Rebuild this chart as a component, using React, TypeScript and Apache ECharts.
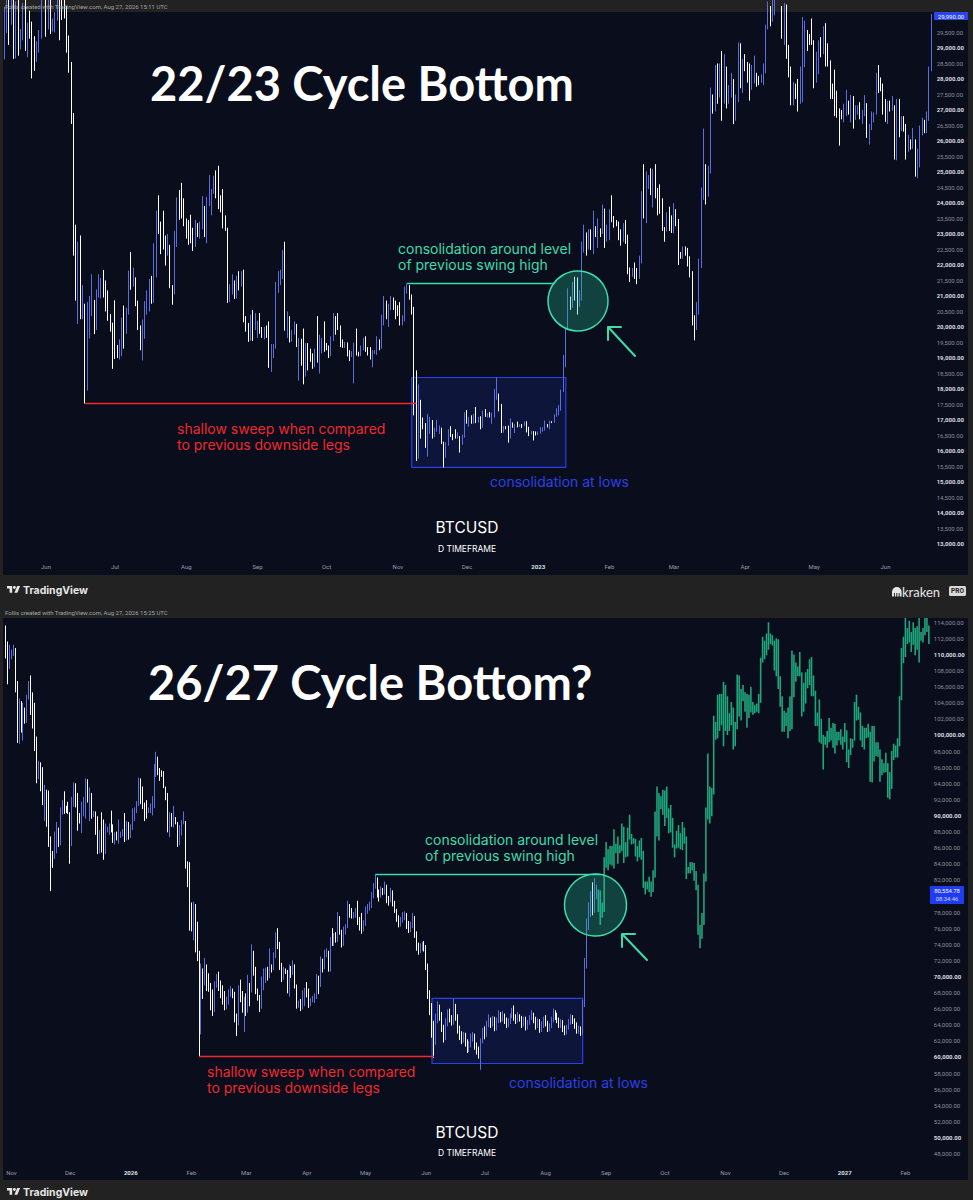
import React, { useEffect, useRef } from 'react';
import * as echarts from 'echarts';

// ---------------- DATA ----------------
const MONTH_LABELS = ['Jan', 'Feb', 'Mar', 'Apr', 'May', 'Jun', 'Jul', 'Aug', 'Sep', 'Oct', 'Nov', 'Dec'];

// 22/23 chart: daily BTCUSD in thousands USD, rows = [close, low, high]; open = previous close
const CYCLE22_START = '2022-05-14';
const CYCLE22_FIRST_OPEN = 29.05;
const cycle22Daily: number[][] = [
  // 2022-05 (14..31)
  [30.08,28.63,30.33],[31.30,29.48,31.40],[29.86,29.10,31.30],[30.42,29.75,30.72],[28.70,28.65,30.67],[30.30,28.66,30.50],[29.20,28.75,30.75],[29.43,28.95,29.61],[30.30,29.25,30.45],[29.10,28.90,30.65],[29.65,28.70,29.82],[29.54,29.30,30.20],[29.20,28.02,29.85],[28.63,28.26,29.38],[29.03,28.55,29.22],[29.47,28.85,29.58],[31.73,29.30,32.20],[31.79,31.22,32.35],
  // 2022-06
  [29.80,29.36,31.95],[30.45,29.60,30.65],[29.70,29.45,30.65],[29.86,29.53,29.95],[29.91,29.50,30.15],[31.37,29.88,31.70],[31.13,29.25,31.55],[30.21,29.90,31.35],[30.11,29.95,30.65],[29.08,28.85,30.35],
  [28.42,28.20,29.40],[26.58,26.55,28.55],[22.49,22.30,26.90],[22.21,20.85,23.30],[22.58,20.10,22.75],[20.38,20.25,22.95],[20.47,20.25,21.35],[19.02,17.53,20.75],[20.56,17.95,20.80],[20.71,19.63,21.00],
  [20.73,20.35,21.70],[19.99,19.77,20.87],[21.09,19.90,21.21],[21.23,20.95,21.70],[21.50,20.92,21.58],[21.03,20.95,21.84],[20.73,20.50,21.50],[20.28,20.20,21.18],[20.10,19.85,20.42],[19.78,18.65,20.14],
  // 2022-07
  [19.30,18.97,20.86],[19.25,19.00,19.42],[19.30,18.95,19.60],[20.23,19.06,20.30],[20.19,19.30,20.69],[20.55,19.78,20.62],[21.62,20.40,21.82],[21.59,21.20,22.42],[21.59,21.30,21.91],[20.86,20.67,21.60],
  [19.97,19.90,20.85],[19.33,19.25,20.05],[20.21,18.92,20.24],[20.57,19.62,20.84],[20.83,20.40,21.18],[21.20,20.50,21.55],[20.78,20.75,21.65],[22.48,20.78,22.70],[23.39,21.60,23.75],[23.23,23.00,24.25],
  [23.16,22.35,23.40],[22.68,22.50,23.75],[22.46,21.98,22.95],[22.58,22.30,23.00],[21.31,21.25,22.65],[21.25,20.72,21.35],[22.95,21.05,23.10],[23.85,22.58,24.18],[23.80,23.45,24.42],[23.65,23.50,24.65],[23.30,23.25,24.15],
  // 2022-08
  [23.27,22.85,23.50],[22.99,22.65,23.45],[22.82,22.70,23.62],[22.63,22.45,23.20],[23.29,22.58,23.45],[22.96,22.90,23.35],[23.18,22.85,23.40],[23.81,23.15,24.22],[23.16,22.90,23.90],[23.95,22.70,24.20],
  [23.95,23.90,24.90],[24.40,23.60,24.45],[24.44,24.30,24.88],[24.31,24.15,25.05],[24.10,23.80,25.20],[23.85,23.70,24.25],[23.34,23.18,24.45],[23.19,23.10,23.60],[20.83,20.78,23.20],[21.14,20.80,21.38],
  [21.52,21.05,21.70],[21.40,20.90,21.50],[21.53,20.92,21.65],[21.37,21.18,21.80],[21.57,21.30,21.80],[20.24,20.15,21.85],[20.04,19.85,20.35],[19.55,19.52,20.13],[20.28,19.55,20.40],[19.81,19.55,20.55],[20.05,19.90,20.45],
  // 2022-09
  [20.13,19.65,20.20],[19.95,19.78,20.45],[19.83,19.65,20.00],[19.99,19.60,20.00],[19.80,19.65,20.05],[18.79,18.68,20.18],[19.29,18.55,19.45],[19.32,19.00,19.45],[21.36,19.30,21.45],[21.65,21.10,21.80],
  [21.83,21.35,21.85],[22.40,21.55,22.48],[20.17,19.88,22.75],[20.24,19.65,20.50],[19.70,19.50,20.35],[19.80,19.52,19.90],[20.11,19.75,20.18],[19.42,19.35,20.10],[19.54,18.27,19.65],[18.88,18.75,19.62],
  [18.48,18.15,19.95],[19.41,18.40,19.48],[19.30,18.60,19.48],[18.93,18.88,19.30],[18.80,18.65,19.15],[19.22,18.70,19.30],[19.11,18.85,20.35],[19.42,18.50,19.75],[19.59,19.15,19.65],[19.43,19.20,20.18],
  // 2022-10
  [19.31,19.25,19.48],[19.06,19.00,19.40],[19.62,19.05,19.70],[20.34,19.55,20.45],[20.16,19.75,20.35],[19.96,19.90,20.45],[19.53,19.35,20.05],[19.42,19.33,19.60],[19.45,19.32,19.52],[19.13,19.05,19.50],
  [19.05,18.90,19.25],[19.16,19.03,19.22],[19.38,18.18,19.50],[19.18,19.08,19.95],[19.07,19.05,19.20],[19.27,19.06,19.40],[19.55,19.25,19.65],[19.33,19.20,19.70],[19.13,19.08,19.35],[19.04,18.95,19.35],
  [19.17,18.70,19.25],[19.21,19.13,19.26],[19.57,19.10,19.70],[19.33,19.25,19.60],[20.09,19.30,20.40],[20.77,20.05,21.00],[20.29,20.25,20.85],[20.60,20.00,20.75],[20.81,20.55,21.00],[20.63,20.55,20.95],[20.49,20.25,20.85],
  // 2022-11
  [20.48,20.35,20.70],[20.16,20.05,20.80],[20.21,20.05,20.38],[21.15,20.18,21.30],[21.30,21.08,21.40],[20.92,20.88,21.35],[20.60,20.40,21.05],[18.54,17.15,20.65],[15.88,15.68,18.60],[17.59,15.75,18.15],
  [17.04,16.40,17.65],[16.80,16.70,17.08],[16.35,16.10,16.90],[16.62,15.82,17.20],[16.90,16.55,17.10],[16.66,16.40,17.00],[16.69,16.45,16.75],[16.70,16.62,17.00],[16.71,16.55,16.82],[16.28,16.22,16.75],
  [15.78,15.47,16.30],[16.19,15.78,16.28],[16.60,16.17,16.70],[16.52,16.45,16.80],[16.46,16.35,16.55],[16.44,16.40,16.70],[16.44,16.40,16.60],[16.21,15.95,16.48],[16.44,16.20,16.53],[17.16,16.43,17.25],
  // 2022-12
  [16.98,16.88,17.32],[17.09,16.78,17.10],[16.89,16.88,17.15],[17.11,16.88,17.20],[16.97,16.90,17.42],[17.09,16.92,17.10],[16.84,16.70,17.12],[17.22,16.75,17.30],[17.13,17.10,17.35],[17.13,17.08,17.22],
  [17.09,17.08,17.26],[17.20,16.88,17.24],[17.78,17.08,18.00],[17.80,17.65,18.37],[17.36,17.28,17.85],[16.63,16.58,17.52],[16.78,16.59,16.80],[16.74,16.70,16.80],[16.44,16.27,16.82],[16.90,16.40,17.05],
  [16.82,16.75,16.92],[16.83,16.58,16.86],[16.78,16.76,16.95],[16.84,16.78,16.86],[16.83,16.74,16.87],[16.92,16.80,16.95],[16.70,16.60,16.96],[16.54,16.48,16.78],[16.63,16.53,16.65],[16.60,16.34,16.64],[16.54,16.50,16.63],
  // 2023-01
  [16.62,16.52,16.63],[16.67,16.56,16.77],[16.67,16.62,16.76],[16.85,16.66,16.98],[16.83,16.76,16.87],[16.95,16.70,16.98],[16.94,16.90,16.96],[17.12,16.91,17.18],[17.18,17.10,17.38],[17.44,17.15,17.48],
  [17.94,17.30,17.98],[18.85,17.90,19.10],[19.93,18.70,19.95],[20.95,19.90,21.25],[20.87,20.55,20.98],[21.17,20.62,21.45],[21.16,20.85,21.62],[20.68,20.40,21.60],[21.07,20.65,21.18],[22.67,20.85,22.75],
  [22.78,22.40,23.30],[22.71,22.30,23.05],[22.92,22.50,23.15],[22.63,22.48,23.15],[23.06,22.35,23.75],[23.01,22.90,23.25],[23.08,22.55,23.50],[23.03,22.90,23.18],[23.77,23.00,23.95],[22.84,22.55,23.82],[23.13,22.75,23.30],
  // 2023-02
  [23.73,22.80,23.80],[23.49,23.38,24.25],[23.43,23.20,23.58],[23.33,23.25,23.45],[22.94,22.80,23.40],[22.76,22.62,23.15],[23.26,22.75,23.35],[22.96,22.68,23.45],[21.80,21.70,22.98],[21.63,21.45,21.92],
  [21.86,21.62,21.90],[21.79,21.55,22.08],[21.78,21.38,21.90],[22.20,21.55,22.30],[24.33,22.05,24.38],[23.52,23.50,25.25],[24.57,23.35,25.02],[24.64,24.45,24.90],[24.30,24.25,25.12],[24.84,23.85,25.10],
  [24.45,24.15,25.25],[24.19,23.60,24.48],[23.95,23.65,24.60],[23.19,23.10,24.15],[23.16,22.75,23.22],[23.55,23.08,23.70],[23.49,23.10,23.88],[23.14,23.03,23.60],
  // 2023-03
  [23.63,23.02,24.00],[23.47,23.25,23.80],[22.36,22.00,23.48],[22.35,22.20,22.42],[22.43,22.20,22.60],[22.41,22.30,22.60],[22.20,21.95,22.55],[21.70,21.60,22.28],[20.36,20.05,21.80],[20.19,19.57,20.38],
  [20.63,19.90,20.80],[22.16,20.40,22.20],[24.20,21.90,24.50],[24.75,24.10,26.40],[24.38,23.95,25.25],[25.05,24.20,25.20],[27.42,24.95,27.72],[26.97,26.88,27.50],[28.04,26.95,28.45],[27.77,27.20,28.50],
  [28.17,27.40,28.50],[27.30,26.65,28.90],[28.33,27.20,28.80],[27.49,27.05,28.40],[27.49,27.20,27.80],[27.99,27.40,28.20],[27.14,26.55,28.00],[27.27,26.65,27.50],[28.35,27.25,29.18],[28.03,27.70,29.15],[28.48,27.55,28.65],
  // 2023-04
  [28.47,28.25,28.80],[28.20,27.88,28.55],[27.80,27.30,28.50],[28.17,27.65,28.45],[28.18,27.85,28.75],[28.04,27.75,28.20],[27.93,27.80,28.10],[27.95,27.88,28.15],[28.33,27.80,28.50],[29.65,28.18,29.75],
  [30.24,29.60,30.50],[29.89,29.70,30.35],[30.40,29.85,30.60],[30.49,30.05,31.00],[30.32,30.25,30.60],[30.32,30.18,30.55],[29.45,29.30,30.35],[30.39,29.10,30.45],[28.82,28.65,30.40],[28.25,28.05,29.10],
  [27.28,27.15,28.40],[27.82,27.15,27.90],[27.59,27.35,27.85],[27.51,26.95,28.00],[28.30,27.20,28.40],[28.42,27.25,30.00],[29.47,28.38,29.88],[29.34,28.90,29.58],[29.25,29.10,29.45],[29.23,29.10,29.95],
  // 2023-05
  [28.09,27.70,29.25],[28.68,27.88,28.88],[29.03,28.15,29.25],[28.85,28.70,29.35],[29.53,28.80,29.70],[28.90,28.40,29.80],[28.45,28.40,29.15],[27.69,27.35,28.60],[27.63,27.35,27.85],[27.62,26.80,28.30],
  [26.99,26.75,27.62],[26.80,25.85,27.05],[26.78,26.70,27.00],[26.92,26.60,27.20],[27.17,26.80,27.65],[27.03,26.85,27.30],[27.40,26.60,27.48],[26.83,26.40,27.45],[26.89,26.68,27.15],[27.12,26.85,27.15],
  [26.75,26.70,27.25],[26.85,26.55,27.00],[27.23,26.80,27.48],[26.33,26.10,27.22],[26.48,25.88,26.55],[26.72,26.35,26.95],[26.87,26.60,26.92],[28.08,26.85,28.20],[27.75,27.55,28.45],[27.70,27.60,28.05],[27.22,26.85,27.85],
  // 2023-06 (1..21)
  [26.82,26.62,27.35],[27.25,26.55,27.30],[27.07,26.95,27.30],[27.12,26.98,27.45],[25.76,25.40,27.15],[27.24,25.38,27.35],[26.35,26.12,27.35],[26.50,26.32,26.80],[26.48,26.30,26.80],[25.85,25.40,26.55],
  [25.94,25.65,26.20],[25.90,25.72,26.05],[25.92,25.75,26.42],[25.12,24.85,26.05],[25.58,24.80,25.75],[26.33,25.15,26.50],[26.51,26.18,26.75],[26.34,26.25,26.68],[26.85,26.25,26.95],[28.31,26.65,28.40],[29.99,28.25,30.10],
];

// 26/27 chart: daily BTCUSD in thousands USD, rows = [close, low, high]; open = previous close
const CYCLE26_START = '2025-10-29';
const CYCLE26_FIRST_OPEN = 113.0;
const cycle26Daily: number[][] = [
  // 2025-10 (29..31)
  [110.0,109.5,113.6],[108.3,106.3,111.6],[109.6,108.2,111.2],
  // 2025-11
  [110.1,109.4,110.6],[110.6,109.8,111.2],[106.5,105.3,110.8],[101.5,99.0,106.7],[103.9,98.9,104.5],[101.3,100.3,104.2],[103.3,99.3,104.0],[102.3,101.4,103.4],[104.7,101.5,105.0],[106.0,104.4,106.7],
  [103.0,102.5,107.4],[101.6,100.8,105.3],[99.7,98.0,104.0],[94.5,94.0,99.8],[95.5,94.5,96.8],[94.2,93.0,96.6],[92.2,91.3,96.0],[92.9,89.3,93.8],[91.5,88.6,93.2],[86.6,86.1,93.1],
  [85.1,80.6,87.4],[84.7,83.5,85.6],[86.8,84.6,88.0],[88.3,85.3,89.2],[87.3,86.1,88.5],[90.5,86.3,91.0],[91.3,90.1,91.9],[90.9,90.2,93.0],[90.8,90.3,91.2],[90.4,90.2,91.7],
  // 2025-12
  [86.3,84.0,90.4],[91.3,86.2,92.3],[93.5,91.1,94.1],[92.1,91.0,94.0],[89.4,88.1,92.8],[89.3,89.0,90.3],[90.4,87.8,91.7],[90.6,89.9,92.3],[92.7,89.6,94.6],[92.0,91.6,94.5],
  [92.5,89.3,93.5],[90.3,89.6,92.8],[90.3,89.8,90.6],[88.2,87.6,90.5],[86.4,85.2,89.9],[87.8,85.3,88.2],[86.2,85.4,90.4],[85.5,84.5,89.5],[88.1,85.2,89.0],[88.3,87.9,88.6],
  [88.6,87.6,89.0],[88.5,87.9,90.6],[87.4,86.6,88.9],[87.6,86.4,87.9],[87.2,86.9,88.0],[87.3,86.5,89.5],[87.8,87.2,88.0],[87.8,87.4,88.3],[87.1,86.7,90.3],[88.4,86.9,89.3],[87.5,87.0,89.2],
  // 2026-01
  [88.7,87.2,88.9],[89.9,88.2,90.9],[90.6,89.3,91.0],[91.4,90.3,91.8],[93.8,91.2,94.7],[93.7,91.4,94.6],[91.3,90.8,93.6],[91.0,89.3,91.6],[90.5,89.6,91.9],[90.6,90.3,91.0],
  [90.8,90.3,91.5],[91.2,90.0,92.4],[95.3,90.9,96.4],[97.0,94.8,97.9],[95.6,95.0,97.3],[95.5,94.3,95.9],[95.1,94.8,95.6],[93.6,93.4,95.5],[92.6,91.9,93.6],[88.4,87.9,92.8],
  [89.5,87.3,90.4],[89.4,88.6,90.3],[89.5,88.5,91.2],[89.2,88.9,89.8],[86.6,86.1,89.2],[88.3,86.3,88.8],[89.1,87.5,89.4],[89.2,88.9,90.5],[84.6,83.4,89.3],[84.1,81.1,84.3],[78.6,75.7,84.2],
  // 2026-02
  [76.9,75.6,79.2],[78.7,74.5,79.3],[75.7,73.0,79.0],[73.0,71.9,76.8],[62.9,60.06,73.2],[70.5,62.8,71.6],[69.3,67.2,71.0],[70.5,68.9,72.3],[70.1,68.2,71.5],[68.8,68.1,70.4],
  [67.0,65.8,69.2],[66.2,65.1,68.4],[68.9,65.6,69.4],[69.7,68.6,70.3],[68.8,68.2,70.6],[68.0,67.3,69.5],[67.5,66.5,68.9],[66.4,65.8,68.2],[66.9,65.9,67.5],[67.9,66.5,68.4],
  [68.2,67.5,68.8],[67.7,67.3,68.5],[64.9,64.3,68.1],[64.2,62.6,65.4],[67.9,63.9,68.9],[67.6,66.8,69.6],[65.9,65.5,68.2],[66.8,63.1,67.5],
  // 2026-03
  [65.9,65.1,67.9],[68.6,65.5,70.2],[68.3,66.3,69.2],[72.4,68.0,74.0],[70.8,70.1,73.2],[68.1,67.8,71.2],[67.2,67.0,68.5],[66.6,65.6,67.7],[68.4,66.0,70.0],[69.9,68.3,71.0],
  [70.5,69.2,71.1],[70.4,69.5,71.2],[71.2,69.8,73.5],[70.9,70.5,71.5],[72.5,70.8,73.0],[74.8,72.3,75.5],[74.0,73.4,76.0],[71.3,70.8,74.3],[69.9,69.3,71.7],[70.7,69.6,71.2],
  [70.6,70.3,71.0],[68.8,67.9,70.8],[70.9,67.5,71.5],[70.6,69.8,71.3],[71.3,70.2,72.0],[68.9,68.5,71.5],[66.3,66.0,69.0],[66.9,66.1,67.0],[66.3,65.7,67.2],[67.8,65.9,68.3],[68.2,66.3,68.6],
  // 2026-04
  [68.1,67.4,69.3],[66.9,66.1,68.5],[66.9,66.3,67.3],[67.3,66.8,67.6],[67.3,66.7,67.9],[69.0,67.2,70.3],[68.9,67.8,70.1],[71.8,68.7,72.5],[71.0,70.5,72.2],[72.9,70.9,73.3],
  [73.0,72.4,73.5],[70.8,70.6,73.2],[74.4,70.6,74.9],[74.2,73.8,76.0],[75.0,73.8,75.4],[74.8,74.2,75.5],[77.0,74.3,78.0],[75.6,75.2,77.5],[74.0,73.6,75.8],[75.5,73.8,76.2],
  [76.2,75.2,76.5],[78.3,76.0,79.4],[78.0,77.3,79.0],[77.6,77.2,78.5],[77.6,77.2,78.0],[77.9,77.3,78.5],[76.9,76.4,79.4],[76.2,75.7,77.4],[75.7,75.3,77.9],[76.5,75.6,77.0],
  // 2026-05
  [78.2,76.3,78.7],[78.5,77.8,79.0],[78.8,78.2,79.3],[80.2,78.5,80.5],[81.2,79.7,81.6],[81.7,80.9,82.67],[80.2,79.8,82.3],[80.0,79.3,80.8],[80.8,79.8,81.2],[80.5,80.1,81.0],
  [81.0,80.2,81.8],[79.5,79.1,81.4],[79.4,78.8,80.0],[80.4,79.2,81.0],[79.2,78.7,80.7],[78.2,77.9,79.4],[77.2,76.8,78.4],[76.6,76.1,77.6],[77.0,76.2,77.4],[77.5,76.7,78.0],
  [77.6,77.0,78.1],[76.6,75.9,77.9],[75.8,75.4,76.9],[76.3,75.5,76.8],[77.4,76.0,77.9],[75.2,74.8,77.5],[73.8,73.2,75.6],[73.3,72.7,74.2],[73.5,72.9,74.1],[73.9,73.2,74.3],[73.6,73.1,74.4],
  // 2026-06
  [71.4,70.8,73.9],[67.8,67.2,71.6],[66.4,65.2,68.3],[63.8,62.4,66.7],[62.0,59.9,64.5],[64.6,61.5,65.4],[66.0,64.2,66.9],[65.2,64.5,66.5],[63.6,63.1,65.6],[62.4,61.8,64.0],
  [64.1,62.1,64.8],[65.5,63.8,65.9],[64.9,64.3,66.0],[64.3,63.9,65.2],[66.2,64.0,67.27],[65.0,64.5,66.6],[63.6,62.9,65.3],[62.8,62.1,63.9],[62.2,61.6,63.2],[62.7,61.8,63.1],
  [61.8,61.3,63.0],[60.9,60.5,62.2],[61.6,60.6,62.0],[62.3,61.2,62.9],[62.5,61.9,63.1],[61.4,60.9,62.9],[60.9,60.3,61.8],[60.4,59.8,61.3],[62.0,58.4,62.3],[63.1,61.7,63.6],
  // 2026-07
  [62.9,62.2,63.8],[64.0,62.5,64.5],[64.6,63.7,65.3],[64.1,63.6,64.9],[64.7,63.8,65.1],[63.6,63.2,65.0],[64.5,63.3,64.9],[65.1,64.2,65.8],[64.7,64.3,65.6],[65.2,64.4,65.7],
  [64.6,64.1,65.4],[64.0,63.6,64.9],[64.3,63.7,64.8],[65.0,64.1,65.4],[65.6,64.8,66.1],[64.9,64.5,66.4],[64.5,64.1,65.3],[65.1,64.3,65.6],[64.8,64.4,65.3],[64.0,63.6,65.1],
  [64.6,63.8,65.0],[63.7,63.3,65.0],[64.2,63.4,64.6],[64.8,64.0,65.2],[65.3,64.6,65.8],[64.7,64.2,65.5],[63.9,63.4,65.0],[64.4,63.6,64.8],[63.5,63.0,64.7],[63.9,63.1,64.4],[64.6,63.6,65.0],
  // 2026-08 (1..27)
  [64.2,63.8,65.2],[63.5,63.1,64.5],[63.9,63.2,64.2],[64.5,63.6,65.0],[65.4,64.3,66.0],[65.1,64.6,65.8],[64.6,64.2,65.5],[64.0,63.6,64.9],[64.3,63.6,64.7],[63.6,63.1,64.6],
  [63.1,62.7,63.9],[63.6,62.8,64.0],[64.4,63.4,64.7],[64.9,64.0,65.3],[64.5,64.1,65.2],[64.0,63.5,64.8],[63.3,62.9,64.3],[63.5,62.9,63.9],[63.0,62.6,63.8],[66.5,62.8,67.1],
  [71.4,66.2,72.3],[76.3,71.0,77.2],[78.0,75.8,79.2],[79.3,77.4,80.6],[78.4,77.6,81.7],[80.2,77.9,82.2],[80.55,79.6,81.4],
];

// projected (green) bars after the last real bar, rows = [low, high]
const cycle26Projection: number[][] = [
  [78.0,80.8],[76.4,80.7],[77.3,79.2],[78.0,84.8],[83.5,86.7],[83.2,85.8],[83.9,86.2],[83.8,86.2],[83.4,88.3],[85.3,86.5],[84.0,87.4],[85.3,86.3],[85.6,89.0],[84.1,88.6],[84.8,86.7],
  [84.9,88.5],[87.0,90.1],[86.4,87.7],[86.5,87.2],[84.9,87.1],[84.3,86.2],[84.8,86.9],[84.5,87.2],[81.0,85.6],[80.2,81.8],[80.8,81.8],[80.5,82.4],[79.9,81.8],[80.5,83.2],
  [82.3,90.5],[87.4,93.6],[86.9,92.8],[90.8,92.4],[90.1,93.2],[88.7,93.1],[89.7,93.6],[87.8,90.9],[87.9,91.3],[86.0,89.7],[84.8,86.4],[85.9,88.1],[86.0,88.8],[85.8,87.8],
  [85.7,89.2],[86.5,88.5],[82.1,87.4],[82.8,83.6],[82.8,84.2],[83.2,84.2],[81.9,84.1],[80.7,83.1],[75.2,81.4],[73.5,76.4],[74.7,77.9],[76.4,82.8],[81.8,91.0],[89.5,97.7],[89.0,93.6],[89.9,93.4],
  [92.6,102.4],[99.4,101.6],[99.6,105.0],[100.5,105.1],[101.2,105.1],[98.6,106.6],[100.5,106.2],[100.0,104.8],[100.5,102.7],[101.2,104.1],[98.2,103.4],[98.6,101.6],[100.7,107.5],[102.3,107.4],[101.8,105.7],
  [104.2,106.2],[102.9,105.3],[100.9,105.1],[102.1,105.0],[102.8,106.0],[102.5,104.1],[102.7,103.7],[102.9,103.9],[102.7,105.1],[104.0,109.6],[109.0,112.2],[109.4,111.7],[109.9,112.6],[110.6,114.0],[111.3,112.6],
  [111.1,112.4],[108.0,111.7],[107.3,112.0],[105.7,111.9],[103.5,107.3],[100.4,104.8],[100.4,103.0],[101.1,102.8],[99.6,103.4],[100.5,104.8],[100.7,110.5],[104.7,110.0],[106.6,109.0],[107.3,108.5],[107.3,110.3],
  [102.3,107.8],[102.9,106.5],[103.9,107.8],[105.8,108.2],[106.2,109.4],[104.8,109.7],[104.8,107.4],[101.1,105.5],[101.1,102.8],[99.1,104.4],[98.9,102.0],[95.7,100.0],[98.8,99.8],[98.4,100.5],[99.1,102.1],
  [99.3,100.9],[98.4,101.5],[97.7,101.4],[98.7,100.4],[99.3,100.4],[98.8,100.7],[98.2,99.8],[99.1,101.5],[96.6,100.6],[95.9,98.2],[97.5,99.6],[98.4,99.5],[99.3,104.1],[101.8,105.0],[101.9,103.5],[99.3,102.8],
  [98.5,101.1],[98.2,100.9],[99.6,100.9],[99.7,101.4],[94.2,100.4],[94.1,101.1],[96.7,101.1],[97.4,99.1],[97.3,99.1],[94.2,98.2],[95.0,97.0],[95.3,96.5],[95.4,97.8],[92.2,96.5],[92.0,95.4],
  [93.3,98.0],[96.9,98.9],[97.2,98.7],[97.2,99.6],[98.6,104.8],[104.3,110.8],[108.9,112.2],[109.7,115.4],[111.3,113.3],[111.5,114.2],[110.3,112.8],[111.2,114.0],[109.9,113.3],[110.6,113.5],[109.0,114.9],
  [111.7,112.8],[111.5,113.3],[112.4,115.4],[112.8,115.1],[111.3,113.6],
];

// annotation levels (data coordinates): [from, to, level] / [from, to, top, bottom]
const cycle22Sweep = ['2022-06-18', '2022-11-09', 17.53];
const cycle22Swing = ['2022-11-05', '2023-01-08', 21.40];
const cycle22Box = ['2022-11-07', '2023-01-13', 18.37, 15.47];
const cycle26Sweep = ['2026-02-05', '2026-06-05', 60.06];
const cycle26Swing = ['2026-05-06', '2026-08-29', 82.67];
const cycle26Box = ['2026-06-04', '2026-08-20', 67.27, 59.19];

const cycle22LastPrice = '29,990.00';
const cycle26LastPrice = '80,554.78';
const cycle26Countdown = '08:34:46';

// ---------------- HELPERS ----------------
const BLUE = '#5b6ee0';
const WHITE = '#ffffff';
const GREEN = '#1fa67c';
const MINT = '#3edcab';
const RED = '#ee2a30';
const BOXBLUE = '#2b40e6';
const PANE = '#0a0d1c';
const BAR = '#222222';

function makeDates(start: string, n: number): string[] {
  const [y, m, d] = start.split('-').map(Number);
  const out: string[] = [];
  for (let i = 0; i < n; i++) {
    out.push(new Date(Date.UTC(y, m - 1, d + i)).toISOString().slice(0, 10));
  }
  return out;
}

function toCandles(firstOpen: number, rows: number[][]) {
  let o = firstOpen;
  return rows.map(([c, l, h]) => {
    const r = [o, c, l, h];
    o = c;
    return r;
  });
}

const fmtK = (v: number) =>
  (Math.round(v * 1000)).toLocaleString('en-US', { minimumFractionDigits: 2, maximumFractionDigits: 2 });

const monthLabel = (val: string) => {
  const [y, m] = val.split('-');
  if (m === '01') return `{y|${y}}`;
  return MONTH_LABELS[Number(m) - 1];
};

const TV_PATH = 'M14 22H7V11H0V4h14v18zM28 22h-8l7.5-18h8L28 22zM24 8a4 4 0 1 1-8 0a4 4 0 1 1 8 0z';
const KRAKEN_PATH = 'M0 12V6a6 6 0 0 1 12 0v6h-2.4V7.5H8.4V12H6.6V7.5H5.4V12H3.6V7.5H2.4V12z';
echarts.graphic.registerShape('tvlogo', echarts.graphic.extendPath(TV_PATH, {}) as any);
echarts.graphic.registerShape('krakenlogo', echarts.graphic.extendPath(KRAKEN_PATH, {}) as any);

function txt(text: string, x: number, y: number, opts: any = {}) {
  return {
    type: 'text',
    z: 60,
    style: {
      text, x, y,
      fill: opts.fill || '#ffffff',
      fontSize: opts.fontSize || 12,
      fontFamily: opts.fontFamily || 'Inter',
      fontWeight: opts.fontWeight || 'normal',
      textAlign: opts.align || 'left',
      textVerticalAlign: 'middle',
    },
  };
}

function arrow(tipX: number, tipY: number, tailX: number, tailY: number) {
  return [
    { type: 'line', z: 60, shape: { x1: tailX, y1: tailY, x2: tipX + 1, y2: tipY + 1 }, style: { stroke: MINT, lineWidth: 2, lineCap: 'round' } },
    { type: 'polyline', z: 60, shape: { points: [[tipX, tipY + 13], [tipX, tipY], [tipX + 13, tipY]] }, style: { stroke: MINT, lineWidth: 2, fill: 'none', lineCap: 'round', lineJoin: 'round' } },
  ];
}

function footer(y: number) {
  return [
    { type: 'tvlogo', x: 7, y: y - 5.5, scaleX: 0.37, scaleY: 0.37, z: 60, style: { fill: '#e6e6e6' } },
    txt('TradingView', 23, y, { fontSize: 10.5, fontWeight: 'bold', fontFamily: 'Inter', fill: '#e6e6e6' }),
  ];
}

const ANN = 14; // annotation font size

function buildOption() {
  const topDates = makeDates(CYCLE22_START, cycle22Daily.length);
  const botDates = makeDates(CYCLE26_START, cycle26Daily.length + cycle26Projection.length);
  const topCandles = toCandles(CYCLE22_FIRST_OPEN, cycle22Daily);
  const botCandles = toCandles(CYCLE26_FIRST_OPEN, cycle26Daily);
  const projBars = cycle26Projection.map(([l, h], i) => [cycle26Daily.length + i, l, h]);

  const xAxisBase = (grid: number, data: string[], margin: number) => ({
    type: 'category',
    gridIndex: grid,
    data,
    boundaryGap: true,
    axisLine: { show: false },
    axisTick: { show: false },
    splitLine: { show: false },
    axisLabel: {
      interval: (_i: number, v: string) => v.slice(8) === '01',
      formatter: monthLabel,
      color: '#9a9da6',
      fontSize: 6,
      fontFamily: 'Roboto',
      margin,
      rich: { y: { color: '#dfe1e6', fontWeight: 'bold', fontSize: 6, fontFamily: 'Roboto' } },
    },
  });

  const yAxisBase = (grid: number, min: number, max: number, interval: number, lo: number, hi: number, boldStep: number, skip: number[]) => ({
    type: 'value',
    gridIndex: grid,
    position: 'right',
    min, max, interval,
    axisLine: { show: false },
    axisTick: { show: false },
    splitLine: { show: false },
    axisLabel: {
      margin: 4,
      color: '#8d909a',
      fontSize: 6,
      fontFamily: 'Roboto',
      formatter: (v: number) => {
        if (v < lo - 1e-6 || v > hi + 1e-6) return '';
        if (skip.some((s) => Math.abs(s - v) < 1e-6)) return '';
        const s = fmtK(v);
        const r = v / boldStep;
        return Math.abs(r - Math.round(r)) < 1e-6 ? `{b|${s}}` : s;
      },
      rich: { b: { color: '#dcdee4', fontWeight: 'bold', fontSize: 6, fontFamily: 'Roboto' } },
    },
  });

  const lineItem = (from: any[], color: string) => [
    { coord: [from[0], from[2]], lineStyle: { color, width: 1.4, type: 'solid', opacity: 1 } },
    { coord: [from[1], from[2]] },
  ];
  const markArea = (b: any[]) => ({
    silent: true,
    itemStyle: { color: 'rgba(32,48,170,0.22)', borderColor: BOXBLUE, borderWidth: 1.2 },
    data: [[{ coord: [b[0], b[2]] }, { coord: [b[1], b[3]] }]],
  });
  const markLine = (a: any[], b: any[]) => ({
    silent: true, symbol: ['none', 'none'], label: { show: false },
    lineStyle: { opacity: 1 },
    data: [lineItem(a, RED), lineItem(b, MINT)],
  });

  const candleStyle = { color: BLUE, color0: WHITE, borderColor: BLUE, borderColor0: WHITE, borderWidth: 1 };

  const graphic: any[] = [
    // panes
    { type: 'rect', z: -5, shape: { x: 3, y: 12, width: 965, height: 563 }, style: { fill: PANE } },
    { type: 'rect', z: -5, shape: { x: 3, y: 618, width: 965, height: 562 }, style: { fill: PANE } },
    // header / footer bars
    txt('Follis created with TradingView.com, Aug 27, 2026 15:11 UTC', 5, 6, { fontSize: 6, fontFamily: 'Roboto', fill: '#a3a6ad' }),
    ...footer(590),
    { type: 'krakenlogo', x: 892, y: 587, scaleX: 0.8, scaleY: 0.8, z: 60, style: { fill: '#e6e6e6' } },
    txt('kraken', 902, 591.5, { fontSize: 13, fontFamily: 'Lato', fill: '#e6e6e6' }),
    { type: 'rect', z: 60, shape: { x: 949, y: 586, width: 17, height: 10, r: 1.5 }, style: { fill: '#d8d8d8' } },
    txt('PRO', 957.5, 591.2, { fontSize: 6.5, fontWeight: 'bold', fontFamily: 'Roboto', fill: '#222222', align: 'center' }),
    txt('Follis created with TradingView.com, Aug 27, 2026 15:25 UTC', 5, 612, { fontSize: 6, fontFamily: 'Roboto', fill: '#a3a6ad' }),
    ...footer(1192),

    // ---- top chart annotations
    txt('22/23 Cycle Bottom', 150, 83, { fontSize: 47, fontWeight: 'bold', fontFamily: 'Lato' }),
    txt('consolidation around level', 398, 248, { fontSize: ANN, fill: MINT }),
    txt('of previous swing high', 398, 264, { fontSize: ANN, fill: MINT }),
    { type: 'circle', z: 55, shape: { cx: 578, cy: 301, r: 30 }, style: { fill: 'rgba(40,190,150,0.30)', stroke: MINT, lineWidth: 1.5 } },
    ...arrow(608, 327, 635, 356),
    txt('shallow sweep when compared', 177, 428, { fontSize: ANN, fill: RED }),
    txt('to previous downside legs', 177, 444, { fontSize: ANN, fill: RED }),
    txt('consolidation at lows', 490, 481, { fontSize: ANN, fill: BOXBLUE }),
    txt('BTCUSD', 467, 527, { fontSize: 15.5, align: 'center' }),
    txt('D TIMEFRAME', 467, 549, { fontSize: 8.5, align: 'center' }),
    { type: 'rect', z: 60, shape: { x: 934, y: 12, width: 34, height: 8 }, style: { fill: '#2a44ee' } },
    txt(cycle22LastPrice, 951, 16.3, { fontSize: 6, fontFamily: 'Roboto', fill: '#ffffff', align: 'center' }),

    // ---- bottom chart annotations
    txt('26/27 Cycle Bottom?', 148, 682, { fontSize: 47, fontWeight: 'bold', fontFamily: 'Lato' }),
    txt('consolidation around level', 425, 839, { fontSize: ANN, fill: MINT }),
    txt('of previous swing high', 425, 855, { fontSize: ANN, fill: MINT }),
    { type: 'circle', z: 55, shape: { cx: 595.5, cy: 905, r: 31 }, style: { fill: 'rgba(40,190,150,0.30)', stroke: MINT, lineWidth: 1.5 } },
    ...arrow(622, 934, 647, 960),
    txt('shallow sweep when compared', 207, 1071, { fontSize: ANN, fill: RED }),
    txt('to previous downside legs', 207, 1087, { fontSize: ANN, fill: RED }),
    txt('consolidation at lows', 509, 1082, { fontSize: ANN, fill: BOXBLUE }),
    txt('BTCUSD', 467, 1132, { fontSize: 15.5, align: 'center' }),
    txt('D TIMEFRAME', 467, 1153, { fontSize: 8.5, align: 'center' }),
    { type: 'rect', z: 60, shape: { x: 930, y: 886, width: 34, height: 18 }, style: { fill: '#1f3cf2' } },
    txt(cycle26LastPrice, 947, 890.5, { fontSize: 5.8, fontFamily: 'Roboto', fill: '#ffffff', align: 'center' }),
    txt(cycle26Countdown, 947, 899.2, { fontSize: 5.8, fontFamily: 'Roboto', fill: '#d5daff', align: 'center' }),
  ];

  return {
    animation: false,
    backgroundColor: BAR,
    grid: [
      { left: 3.45, top: 12, width: 929.2, height: 547.5 },
      { left: 4.65, top: 618, width: 925.2, height: 551.7 },
    ],
    xAxis: [xAxisBase(0, topDates, 4), xAxisBase(1, botDates, 0)],
    yAxis: [
      yAxisBase(0, 12.5, 30.16, 0.5, 13, 29.5, 1, []),
      yAxisBase(1, 46, 114.53, 2, 48, 114, 10, [80]),
    ],
    series: [
      {
        type: 'candlestick', xAxisIndex: 0, yAxisIndex: 0, data: topCandles,
        barWidth: 1.2, large: false, clip: true, itemStyle: candleStyle,
        markLine: markLine(cycle22Sweep, cycle22Swing),
        markArea: markArea(cycle22Box),
      },
      {
        type: 'candlestick', xAxisIndex: 1, yAxisIndex: 1, data: botCandles,
        barWidth: 0.9, large: false, clip: true, itemStyle: candleStyle,
        markLine: markLine(cycle26Sweep, cycle26Swing),
        markArea: markArea(cycle26Box),
      },
      {
        type: 'custom', xAxisIndex: 1, yAxisIndex: 1, data: projBars, clip: true,
        encode: { x: 0, y: [1, 2] },
        renderItem: (_p: any, api: any) => {
          const lo = api.coord([api.value(0), api.value(1)]);
          const hi = api.coord([api.value(0), api.value(2)]);
          return {
            type: 'rect',
            shape: { x: lo[0] - 0.8, y: hi[1], width: 1.6, height: Math.max(1, lo[1] - hi[1]) },
            style: { fill: GREEN },
          };
        },
      },
    ],
    graphic,
  };
}

export default function App() {
  const ref = useRef<HTMLDivElement>(null);
  useEffect(() => {
    if (!ref.current) return;
    const chart = echarts.init(ref.current, null, { renderer: 'svg' });
    chart.setOption(buildOption() as any);
    return () => chart.dispose();
  }, []);
  return <div ref={ref} style={{ position: 'absolute', left: 0, top: 0, width: 973, height: 1200 }} />;
}
